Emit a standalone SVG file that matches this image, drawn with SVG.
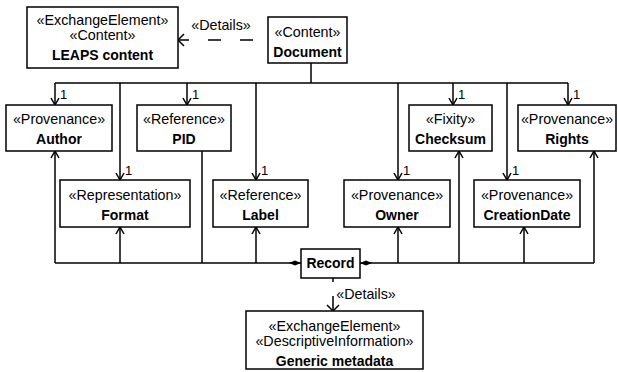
<svg xmlns="http://www.w3.org/2000/svg" width="618" height="372" viewBox="0 0 618 372">
<style>
.box{fill:#fff;stroke:#000;stroke-width:1.5}
text{font-family:"Liberation Sans",Arial,sans-serif;fill:#000;text-anchor:middle}
.st{font-size:14.3px}
.nm{font-size:14px;font-weight:bold}
.m{font-size:13px;text-anchor:start}
.c{fill:none;stroke:#000;stroke-width:1.5}
.a{marker-end:url(#arr)}
.d{marker-end:url(#dia)}
</style>
<defs>
<marker id="arr" markerUnits="userSpaceOnUse" markerWidth="10" markerHeight="10" refX="7" refY="4" orient="auto" overflow="visible">
<path d="M0,0 L7,4 L0,8" fill="none" stroke="#000" stroke-width="1.5"/>
</marker>
<marker id="dia" markerUnits="userSpaceOnUse" markerWidth="14" markerHeight="8" refX="12" refY="3" orient="auto" overflow="visible">
<path d="M0,3 L6,0.5 L12,3 L6,5.5 Z" fill="#000"/>
</marker>
</defs>
<g id="connectors">
<path class="c" d="M268,40 H178" stroke-dasharray="13 19" stroke-dashoffset="17"/>
<path class="c" d="M184,34 L178,40 L184,46"/>
<path class="c" d="M311,63 V83 M55,83 H568"/>
<path class="c a" d="M55,83 V105"/>
<path class="c a" d="M120,83 V180"/>
<path class="c a" d="M187,83 V105"/>
<path class="c a" d="M256,83 V180"/>
<path class="c a" d="M398,83 V180"/>
<path class="c a" d="M453,83 V105"/>
<path class="c a" d="M507,83 V180"/>
<path class="c a" d="M568,83 V105"/>
<path class="c d" d="M55,263 H301"/>
<path class="c d" d="M594,263 H360"/>
<path class="c a" d="M55,263 V151"/>
<path class="c a" d="M120,263 V227"/>
<path class="c" d="M202,263 V151"/>
<path class="c a" d="M256,263 V227"/>
<path class="c a" d="M398,263 V227"/>
<path class="c a" d="M459,263 V151"/>
<path class="c a" d="M524,263 V227"/>
<path class="c a" d="M594,263 V151"/>
<path class="c" d="M333,278 V311" stroke-dasharray="4 14 40"/>
<path class="c" d="M327,305 L333,311 L339,305"/>
<text class="st" x="221" y="30">«Details»</text>
<text class="st" x="366" y="299">«Details»</text>
<text class="m" x="60" y="99">1</text>
<text class="m" x="192" y="99">1</text>
<text class="m" x="458" y="99">1</text>
<text class="m" x="573" y="99">1</text>
<text class="m" x="125" y="175">1</text>
<text class="m" x="261" y="175">1</text>
<text class="m" x="403" y="175">1</text>
<text class="m" x="512" y="175">1</text>
</g>
<g id="leaps">
<rect class="box" x="27" y="7" width="151" height="61"/>
<text class="st" x="102.5" y="25">«ExchangeElement»</text>
<text class="st" x="102.5" y="39.5">«Content»</text>
<text class="nm" x="102.5" y="60">LEAPS content</text>
</g>
<g id="document">
<rect class="box" x="268" y="17" width="79" height="46"/>
<text class="st" x="307.5" y="37">«Content»</text>
<text class="nm" x="307.5" y="57">Document</text>
</g>
<g id="author">
<rect class="box" x="6" y="105" width="106" height="46"/>
<text class="st" x="59" y="124">«Provenance»</text>
<text class="nm" x="59" y="144">Author</text>
</g>
<g id="pid">
<rect class="box" x="137" y="105" width="94" height="46"/>
<text class="st" x="184" y="124">«Reference»</text>
<text class="nm" x="184" y="144">PID</text>
</g>
<g id="checksum">
<rect class="box" x="409" y="105" width="83" height="46"/>
<text class="st" x="450.5" y="124">«Fixity»</text>
<text class="nm" x="450.5" y="144">Checksum</text>
</g>
<g id="rights">
<rect class="box" x="518" y="105" width="98" height="46"/>
<text class="st" x="567" y="124">«Provenance»</text>
<text class="nm" x="567" y="144">Rights</text>
</g>
<g id="format">
<rect class="box" x="60" y="180" width="130" height="47"/>
<text class="st" x="125" y="200">«Representation»</text>
<text class="nm" x="125" y="220">Format</text>
</g>
<g id="label">
<rect class="box" x="213" y="180" width="95" height="47"/>
<text class="st" x="260.5" y="200">«Reference»</text>
<text class="nm" x="260.5" y="220">Label</text>
</g>
<g id="owner">
<rect class="box" x="344" y="180" width="106" height="47"/>
<text class="st" x="397" y="200">«Provenance»</text>
<text class="nm" x="397" y="220">Owner</text>
</g>
<g id="creationdate">
<rect class="box" x="474" y="180" width="106" height="47"/>
<text class="st" x="527" y="200">«Provenance»</text>
<text class="nm" x="527" y="220">CreationDate</text>
</g>
<g id="record">
<rect class="box" x="301" y="249" width="59" height="29"/>
<text class="nm" x="330.5" y="268">Record</text>
</g>
<g id="generic">
<rect class="box" x="246" y="311" width="177" height="58"/>
<text class="st" x="334.5" y="331">«ExchangeElement»</text>
<text class="st" x="334.5" y="345.5">«DescriptiveInformation»</text>
<text class="nm" x="334.5" y="366">Generic metadata</text>
</g>
</svg>
